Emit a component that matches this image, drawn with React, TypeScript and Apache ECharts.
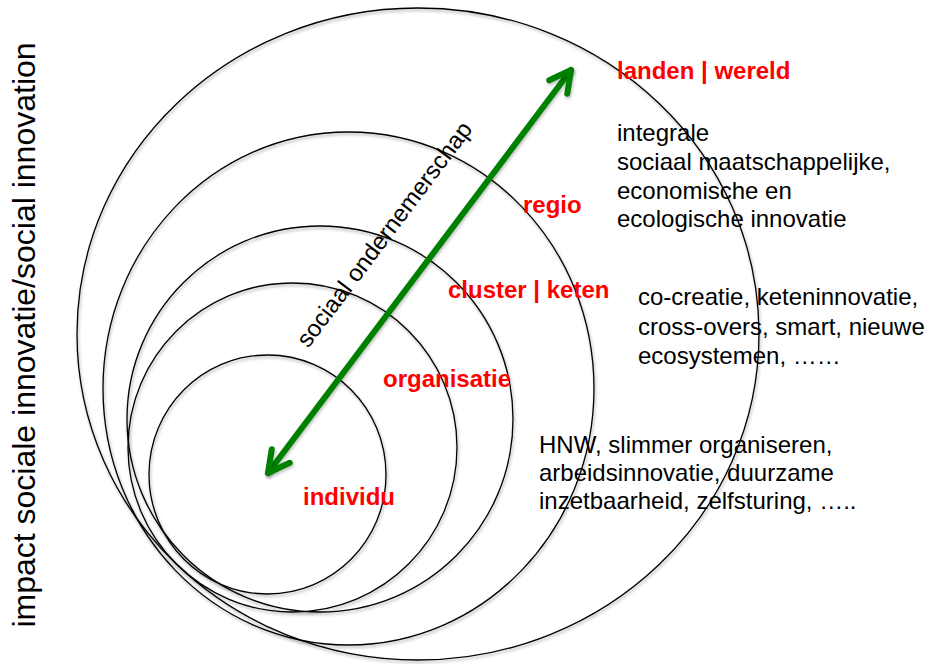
import React, { useEffect, useRef } from "react";
import * as echarts from "echarts";

const W = 930;
const H = 664;
const FONT = "'Liberation Sans', Arial, Helvetica, sans-serif";

// Nested circles (outer -> inner), in page units
const circleNames = ["landen | wereld", "regio", "cluster | keten", "organisatie", "individu"];
const circleCx = [418, 348.5, 320, 292.5, 267.5];
const circleCy = [334, 388.5, 419, 447.5, 474.5];
const circleRx = [341, 245.5, 193, 164.5, 118.5];
const circleRy = [326, 256.5, 193, 164.5, 119.5];

// Red level labels: left x and baseline y
const labelX = [617, 523, 448, 383, 303];
const labelBaseline = [79, 213, 298, 387, 505];

// Double-headed arrow
const arrowFrom = [268, 473];
const arrowTo = [571, 70];
const arrowText = "sociaal ondernemerschap";
const arrowTextCenter = [384, 234];

// Description blocks
const blockText = [
  ["integrale", "sociaal maatschappelijke,", "economische en", "ecologische innovatie"],
  ["co-creatie, keteninnovatie,", "cross-overs, smart, nieuwe", "ecosystemen, \u2026\u2026"],
  ["HNW, slimmer organiseren,", "arbeidsinnovatie, duurzame", "inzetbaarheid, zelfsturing, \u2026.."],
];
const blockX = [617, 638, 539];
const blockFirstBaseline = [141, 305, 453];
const blockLineGap = [28.7, 29.5, 28];

// Vertical title
const yTitle = "impact sociale innovatie/social innovation";
const yTitleCenter = [24, 335];

const FS = 24;
const CENTRAL = 0.3465; // baseline offset of "central" line, in em

export default function App() {
  const ref = useRef<HTMLDivElement>(null);

  useEffect(() => {
    if (!ref.current) return;
    const chart = echarts.init(ref.current, null, { renderer: "svg" });

    const shadow = {
      shadowColor: "rgba(0,0,0,0.35)",
      shadowBlur: 3,
      shadowOffsetX: 1,
      shadowOffsetY: 2,
    };

    const option: any = {
      animation: false,
      backgroundColor: "#ffffff",
      grid: { left: 0, right: 0, top: 0, bottom: 0, containLabel: false },
      xAxis: { type: "value", min: 0, max: W, show: false },
      yAxis: { type: "value", min: 0, max: H, inverse: true, show: false },
      series: [
        {
          type: "custom",
          name: "circles",
          coordinateSystem: "cartesian2d",
          silent: true,
          data: circleCx.map((cx, i) => [cx, circleCy[i], circleRx[i] * 2, circleRy[i] * 2]),
          renderItem: (params: any, api: any) => {
            const c = api.coord([api.value(0), api.value(1)]);
            const s = api.size([api.value(2), api.value(3)], [api.value(0), api.value(1)]);
            return {
              type: "ellipse",
              shape: { cx: c[0], cy: c[1], rx: s[0] / 2, ry: s[1] / 2 },
              style: { fill: "none", stroke: "#000000", lineWidth: 1.3, ...shadow },
            };
          },
        },
        {
          type: "custom",
          name: "arrow",
          coordinateSystem: "cartesian2d",
          silent: true,
          data: [[arrowFrom[0], arrowFrom[1], arrowTo[0], arrowTo[1]]],
          renderItem: (params: any, api: any) => {
            const p0 = api.coord([api.value(0), api.value(1)]);
            const p1 = api.coord([api.value(2), api.value(3)]);
            const dx = p1[0] - p0[0];
            const dy = p1[1] - p0[1];
            const len = Math.sqrt(dx * dx + dy * dy);
            const ux = dx / len;
            const uy = dy / len;
            const headLen = 24;
            const ang = (28 * Math.PI) / 180;
            const head = (tip: number[], bx: number, by: number) => {
              const ca = Math.cos(ang);
              const sa = Math.sin(ang);
              const a1 = [tip[0] + headLen * (bx * ca - by * sa), tip[1] + headLen * (bx * sa + by * ca)];
              const a2 = [tip[0] + headLen * (bx * ca + by * sa), tip[1] + headLen * (-bx * sa + by * ca)];
              return [a1, tip, a2];
            };
            const st = {
              stroke: "#008000",
              fill: "none",
              lineWidth: 6,
              lineCap: "round",
              lineJoin: "round",
              ...shadow,
              shadowColor: "rgba(0,0,0,0.25)",
            };
            return {
              type: "group",
              children: [
                { type: "line", shape: { x1: p0[0], y1: p0[1], x2: p1[0], y2: p1[1] }, style: st },
                { type: "polyline", shape: { points: head(p1, -ux, -uy) }, style: st },
                { type: "polyline", shape: { points: head(p0, ux, uy) }, style: st },
              ],
            };
          },
        },
        {
          type: "custom",
          name: "arrowText",
          coordinateSystem: "cartesian2d",
          silent: true,
          data: [[arrowTextCenter[0], arrowTextCenter[1], arrowFrom[0], arrowFrom[1], arrowTo[0], arrowTo[1]]],
          renderItem: (params: any, api: any) => {
            const c = api.coord([api.value(0), api.value(1)]);
            const p0 = api.coord([api.value(2), api.value(3)]);
            const p1 = api.coord([api.value(4), api.value(5)]);
            const rot = Math.atan2(p0[1] - p1[1], p1[0] - p0[0]);
            return {
              type: "text",
              x: c[0],
              y: c[1],
              rotation: rot,
              style: {
                text: arrowText,
                fill: "#000000",
                font: `${FS}px ${FONT}`,
                align: "center",
                verticalAlign: "middle",
              },
            };
          },
        },
        {
          type: "custom",
          name: "labels",
          coordinateSystem: "cartesian2d",
          silent: true,
          data: labelX.map((x, i) => [x, labelBaseline[i]]),
          renderItem: (params: any, api: any) => {
            const p = api.coord([api.value(0), api.value(1)]);
            return {
              type: "text",
              x: p[0],
              y: p[1] - CENTRAL * FS,
              style: {
                text: circleNames[params.dataIndex],
                fill: "#ff0000",
                font: `bold ${FS}px ${FONT}`,
                align: "left",
                verticalAlign: "middle",
              },
            };
          },
        },
        {
          type: "custom",
          name: "blocks",
          coordinateSystem: "cartesian2d",
          silent: true,
          data: blockX.map((x, i) => [x, blockFirstBaseline[i], blockLineGap[i]]),
          renderItem: (params: any, api: any) => {
            const p = api.coord([api.value(0), api.value(1)]);
            const lh = api.value(2);
            return {
              type: "text",
              x: p[0],
              y: p[1] - CENTRAL * FS - lh / 2,
              style: {
                text: blockText[params.dataIndex].join("\n"),
                fill: "#000000",
                font: `${FS}px ${FONT}`,
                lineHeight: lh,
                align: "left",
                verticalAlign: "top",
              },
            };
          },
        },
        {
          type: "custom",
          name: "title",
          coordinateSystem: "cartesian2d",
          silent: true,
          data: [[yTitleCenter[0], yTitleCenter[1]]],
          renderItem: (params: any, api: any) => {
            const p = api.coord([api.value(0), api.value(1)]);
            return {
              type: "text",
              x: p[0],
              y: p[1],
              rotation: Math.PI / 2,
              style: {
                text: yTitle,
                fill: "#000000",
                font: `32px ${FONT}`,
                align: "center",
                verticalAlign: "middle",
              },
            };
          },
        },
      ],
    };

    chart.setOption(option);
    return () => {
      chart.dispose();
    };
  }, []);

  return (
    <div
      ref={ref}
      style={{ position: "fixed", left: 0, top: 0, width: W, height: H, background: "#ffffff" }}
    />
  );
}
